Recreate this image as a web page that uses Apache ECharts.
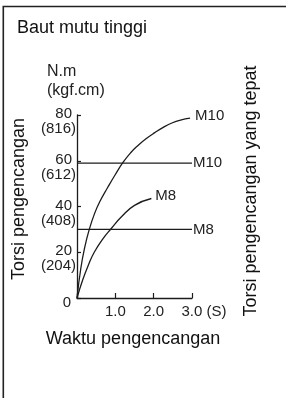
<!DOCTYPE html>
<html>
<head>
<meta charset="utf-8">
<script src="https://cdn.jsdelivr.net/npm/echarts@6/dist/echarts.min.js"></script>
<style>
html,body{margin:0;padding:0;background:#fff;}
#chart{width:286px;height:398px;}
</style>
</head>
<body>
<div id="chart"></div>
<script>
// ---- data ----
const titleText = 'Baut mutu tinggi';
const yUnitTop = 'N.m';
const yUnitBottom = '(kgf.cm)';
const yAxisTitle = 'Torsi pengencangan';
const xAxisTitle = 'Waktu pengencangan';
const rightTitle = 'Torsi pengencangan yang tepat';

const yTicks = [0, 20, 40, 60, 80];
const yTickKgf = ['', '(204)', '(408)', '(612)', '(816)'];
const xTicks = [0, 1, 2, 3];
const xTickLabels = ['', '1.0', '2.0', '3.0 (S)'];

const m10Time   = [0, 0.1, 0.2, 0.32, 0.46, 0.6, 0.8, 1.0, 1.2, 1.4, 1.6, 1.8, 2.03, 2.25, 2.46, 2.7, 2.95];
const m10Torque = [0, 13, 22, 30, 37, 42.3, 48.3, 54, 59.3, 63.5, 66.8, 69.6, 72.3, 74.6, 76.4, 77.8, 78.6];
const m8Time    = [0, 0.15, 0.3, 0.45, 0.68, 0.9, 1.16, 1.5, 1.94];
const m8Torque  = [0, 8, 14.5, 20, 26, 30.5, 35.5, 40.5, 43.5];

const refTime = [0, 3];
const m10Ref = [59, 59];
const m8Ref = [30, 30];

const seriesNames = ['M10', 'M8'];

// ---- chart ----
const ink = '#1c1c1c';
const txt = '#222';
const font = 'Liberation Sans, Arial, Helvetica, sans-serif';
const pairs = (xs, ys) => xs.map((x, i) => [x, ys[i]]);

const chart = echarts.init(document.getElementById('chart'), null, {renderer: 'canvas'});

const lineBase = {
  type: 'line', symbol: 'none', silent: true, animation: false,
  lineStyle: {color: ink, width: 1.3}
};
const tickFont = 15;

chart.setOption({
  animation: false,
  backgroundColor: '#fff',
  grid: {left: 77, top: 115, width: 115, height: 183, containLabel: false},
  xAxis: {
    type: 'value', min: 0, max: 3, interval: 1,
    axisLine: {show: true, lineStyle: {color: ink, width: 1.3}},
    axisTick: {show: true, inside: true, length: 5, lineStyle: {color: ink, width: 1.2}},
    splitLine: {show: false},
    axisLabel: {
      margin: 6, color: txt, fontFamily: font, fontSize: tickFont,
      formatter: function (v) {
        const i = xTicks.indexOf(v);
        const s = i >= 0 ? xTickLabels[i] : '';
        if (i === xTicks.length - 1) return '{s|' + s + '}';
        return s;
      },
      rich: {s: {fontFamily: font, fontSize: tickFont, color: txt, padding: [0, 0, 0, 24]}}
    }
  },
  yAxis: {
    type: 'value', min: 0, max: 80, interval: 20,
    axisLine: {show: true, lineStyle: {color: ink, width: 1.3}},
    axisTick: {show: true, inside: true, length: 4, lineStyle: {color: ink, width: 1.2}},
    splitLine: {show: false},
    axisLabel: {
      margin: 1, color: txt, fontFamily: font, fontSize: tickFont,
      padding: [13, 0, 0, 0],
      formatter: function (v) {
        const i = yTicks.indexOf(v);
        if (i < 0) return '';
        if (!yTickKgf[i]) return '{z|' + yTicks[i] + '}';
        return '{a|' + yTicks[i] + '}\n{b|' + yTickKgf[i] + '}';
      },
      rich: {
        a: {fontFamily: font, fontSize: tickFont, color: txt, lineHeight: 15, padding: [0, 4, 0, 0], align: 'right'},
        b: {fontFamily: font, fontSize: tickFont, color: txt, lineHeight: 15, align: 'right'},
        z: {fontFamily: font, fontSize: tickFont, color: txt, lineHeight: 15, padding: [0, 5, 4, 0], align: 'right'}
      }
    }
  },
  series: [
    Object.assign({}, lineBase, {
      name: seriesNames[0], smooth: 0.5, data: pairs(m10Time, m10Torque),
      endLabel: {show: true, formatter: seriesNames[0], color: txt, fontFamily: font, fontSize: tickFont, distance: 5, offset: [0, -2]}
    }),
    Object.assign({}, lineBase, {
      name: seriesNames[1], smooth: 0.5, data: pairs(m8Time, m8Torque),
      endLabel: {show: true, formatter: seriesNames[1], color: txt, fontFamily: font, fontSize: tickFont, distance: 4, offset: [0, -3]}
    }),
    Object.assign({}, lineBase, {
      name: seriesNames[0] + ' ref', data: pairs(refTime, m10Ref),
      endLabel: {show: true, formatter: seriesNames[0], color: txt, fontFamily: font, fontSize: tickFont, distance: 1}
    }),
    Object.assign({}, lineBase, {
      name: seriesNames[1] + ' ref', data: pairs(refTime, m8Ref),
      endLabel: {show: true, formatter: seriesNames[1], color: txt, fontFamily: font, fontSize: tickFont, distance: 1}
    })
  ],
  graphic: [
    {type: 'rect', silent: true, shape: {x: 3.3, y: 6.5, width: 420, height: 420},
      style: {fill: 'none', stroke: '#222', lineWidth: 1.6}},
    {type: 'text', silent: true, x: 17, y: 28, style: {text: titleText, font: '18px ' + font, fill: '#111', verticalAlign: 'middle', align: 'left'}},
    {type: 'text', silent: true, x: 47, y: 72, style: {text: yUnitTop, font: '16px ' + font, fill: txt, verticalAlign: 'middle', align: 'left'}},
    {type: 'text', silent: true, x: 47, y: 91, style: {text: yUnitBottom, font: '16px ' + font, fill: txt, verticalAlign: 'middle', align: 'left'}},
    {type: 'text', silent: true, x: 133, y: 339, style: {text: xAxisTitle, font: '18px ' + font, fill: '#111', verticalAlign: 'middle', align: 'center'}},
    {type: 'text', silent: true, x: 19, y: 199, rotation: Math.PI / 2, style: {text: yAxisTitle, font: '18px ' + font, fill: '#111', verticalAlign: 'middle', align: 'center'}},
    {type: 'text', silent: true, x: 251, y: 191, rotation: Math.PI / 2, style: {text: rightTitle, font: '18px ' + font, fill: '#111', verticalAlign: 'middle', align: 'center'}}
  ]
});
</script>
</body>
</html>
